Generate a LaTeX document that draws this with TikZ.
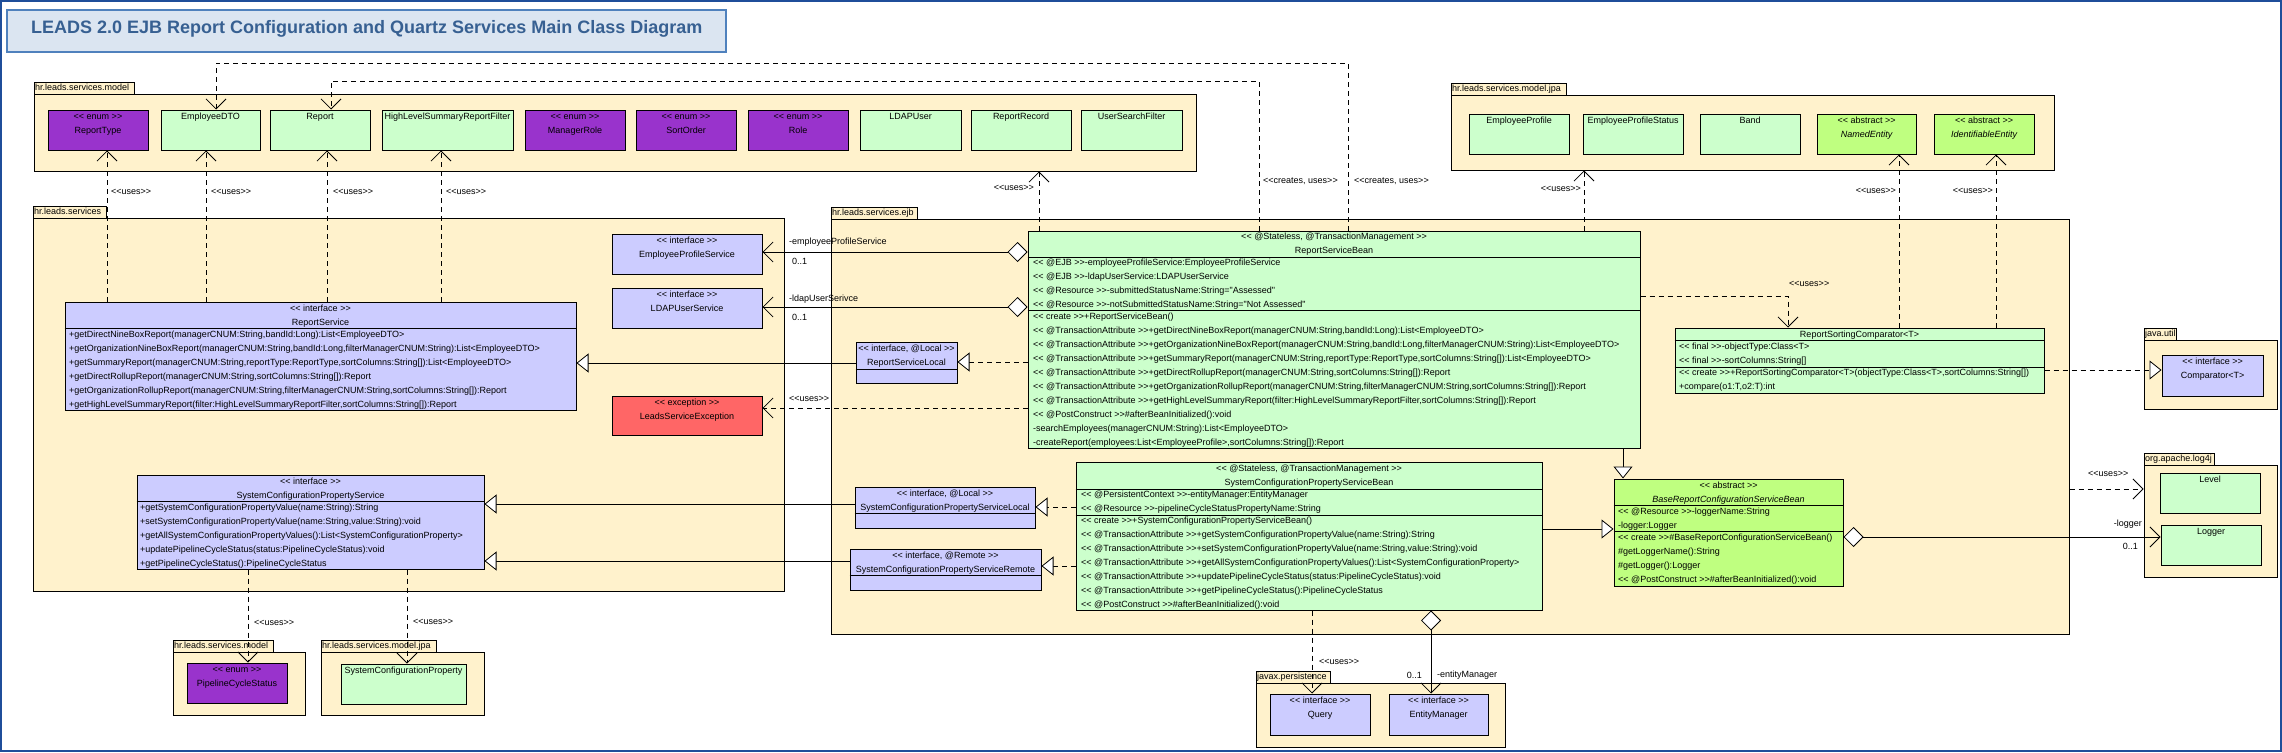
\documentclass[tikz,border=0pt]{standalone}
\usepackage{fontspec}
\setmainfont{Liberation Sans}[Ligatures=TeXOff]
\usetikzlibrary{arrows.meta,fit,calc}
\definecolor{pkgc}{HTML}{FFF2CC}
\definecolor{clsg}{HTML}{CCFFCC}
\definecolor{enumc}{HTML}{9933CC}
\definecolor{intc}{HTML}{CCCCFF}
\definecolor{excc}{HTML}{FF6666}
\definecolor{absc}{HTML}{BFFF80}
\definecolor{titlefill}{HTML}{DBE5F1}
\definecolor{titledraw}{HTML}{4F81BD}
\definecolor{titletext}{HTML}{376092}
\definecolor{framec}{HTML}{1F4E9A}
\newcounter{tn}
\tikzset{
  box/.style={draw=black, line width=1pt, inner sep=0pt},
  pkg/.style={box, fill=pkgc},
  cg/.style={box, fill=clsg},
  ce/.style={box, fill=enumc},
  ci/.style={box, fill=intc},
  cx/.style={box, fill=excc},
  ca/.style={box, fill=absc},
  tx/.style={inner sep=0pt, font=\fontsize{9}{10}\selectfont},
  ltx/.style={tx, anchor=mid west},
  ctx/.style={tx, anchor=mid},
  rtx/.style={tx, anchor=mid east},
  conn/.style={line width=0.8pt},
  uses/.style={conn, dash pattern=on 5pt off 4pt, -{Straight Barb[length=10pt,width=20pt]}},
  real/.style={conn, dash pattern=on 5pt off 4pt, -{Triangle[fill=white,length=12pt,width=19pt]}},
  gen/.style={conn, -{Triangle[fill=white,length=12pt,width=19pt]}},
  agg/.style={conn, {Diamond[fill=white,length=20pt,width=20pt]}-{Straight Barb[length=10pt,width=20pt]}},
}
\newcommand\Tx[4]{\stepcounter{tn}\node[#1] (txt\arabic{tn}) at (#2,#3) {#4};}
\newcommand\Rows[4]{\foreach \rowtext [count=\i from 0] in {#4}{\node[ltx] (#1-\i) at (#2,#3+14*\i) {\rowtext};}}
\newcommand\Cls[6]{\node[#2, fit={(#3,#4)(#5,#6)}] (#1) {};}
\newcommand\CSep[2]{\draw[line width=1pt] (#1.west |- 0,#2) -- (#1.east |- 0,#2);}
\newcommand\Pkg[7]{\node[pkg, fit={(#2,#3)(#4,#5)}] (#1) {};
  \node[pkg, fit={(#2,#3-12)(#6,#3)}] (#1-tab) {};
  \node[ltx] (#1-lab) at (#2+1,#3-6) {#7};}
\begin{document}
\begin{tikzpicture}[x=1pt,y=-1pt]
\useasboundingbox (0,0) rectangle (2282,752);
\node[draw=framec, line width=2pt, inner sep=0pt, fit={(1,1)(2281,751)}] (frame) {};
\node[draw=titledraw, fill=titlefill, line width=1.2pt, inner sep=0pt, fit={(7,10)(726,52)}] (title) {};
\node[anchor=mid west, inner sep=0pt, font=\bfseries\fontsize{18}{21}\selectfont, text=titletext] (titletxt) at (31,31) {LEADS 2.0 EJB Report Configuration and Quartz Services Main Class Diagram};

% ---------- packages ----------
\Pkg{mdl}{34}{94}{1196}{171}{134}{hr.leads.services.model}
\Pkg{jpa}{1451}{95}{2054}{170}{1566}{hr.leads.services.model.jpa}
\Pkg{svc}{33}{218}{784}{591}{106}{hr.leads.services}
\Pkg{ejb}{831}{219}{2069}{634}{917}{hr.leads.services.ejb}
\Pkg{jutil}{2144}{340}{2277}{409}{2176}{java.util}
\Pkg{log}{2144}{465}{2277}{577}{2214}{org.apache.log4j}
\Pkg{jxp}{1256}{683}{1505}{747}{1330}{javax.persistence}
\Pkg{mdlb}{173}{652}{305}{715}{273}{hr.leads.services.model}
\Pkg{jpab}{321}{652}{484}{715}{436}{hr.leads.services.model.jpa}

% ---------- top model classes ----------
\Cls{rtype}{ce}{48}{110}{148}{150}
\Tx{ctx}{98}{117}{<< enum >>}\Tx{ctx}{98}{131}{ReportType}
\Cls{edto}{cg}{161}{110}{260}{150}\Tx{ctx}{210.5}{117}{EmployeeDTO}
\Cls{rep}{cg}{270}{110}{370}{150}\Tx{ctx}{320}{117}{Report}
\Cls{hlsrf}{cg}{382}{110}{513}{150}\Tx{ctx}{447.5}{117}{HighLevelSummaryReportFilter}
\Cls{mrole}{ce}{525}{110}{625}{150}
\Tx{ctx}{575}{117}{<< enum >>}\Tx{ctx}{575}{131}{ManagerRole}
\Cls{sorder}{ce}{636}{110}{736}{150}
\Tx{ctx}{686}{117}{<< enum >>}\Tx{ctx}{686}{131}{SortOrder}
\Cls{role}{ce}{748}{110}{848}{150}
\Tx{ctx}{798}{117}{<< enum >>}\Tx{ctx}{798}{131}{Role}
\Cls{ldapu}{cg}{860}{110}{961}{150}\Tx{ctx}{910.5}{117}{LDAPUser}
\Cls{rrec}{cg}{971}{110}{1071}{150}\Tx{ctx}{1021}{117}{ReportRecord}
\Cls{usf}{cg}{1081}{110}{1182}{150}\Tx{ctx}{1131.5}{117}{UserSearchFilter}

% ---------- jpa classes ----------
\Cls{eprof}{cg}{1469}{114}{1569}{154}\Tx{ctx}{1519}{121}{EmployeeProfile}
\Cls{epstat}{cg}{1583}{114}{1683}{154}\Tx{ctx}{1633}{121}{EmployeeProfileStatus}
\Cls{band}{cg}{1700}{114}{1800}{154}\Tx{ctx}{1750}{121}{Band}
\Cls{nent}{ca}{1817}{114}{1916}{154}
\Tx{ctx}{1866.5}{121}{<< abstract >>}\Tx{ctx}{1866.5}{135}{\itshape NamedEntity}
\Cls{ident}{ca}{1934}{114}{2034}{154}
\Tx{ctx}{1984}{121}{<< abstract >>}\Tx{ctx}{1984}{135}{\itshape IdentifiableEntity}

% ---------- services ----------
\Cls{eps}{ci}{612}{234}{762}{274}
\Tx{ctx}{687}{241}{<< interface >>}\Tx{ctx}{687}{255}{EmployeeProfileService}
\Cls{lus}{ci}{612}{288}{762}{328}
\Tx{ctx}{687}{295}{<< interface >>}\Tx{ctx}{687}{309}{LDAPUserService}
\Cls{lse}{cx}{612}{396}{762}{435}
\Tx{ctx}{687}{403}{<< exception >>}\Tx{ctx}{687}{417}{LeadsServiceException}
\Cls{rs}{ci}{65}{302}{576}{410}
\Tx{ctx}{320.5}{309}{<< interface >>}\Tx{ctx}{320.5}{323}{ReportService}
\CSep{rs}{328}
\Rows{rsm}{69}{335}{{+getDirectNineBoxReport(managerCNUM:String,bandId:Long):List<EmployeeDTO>},
 {+getOrganizationNineBoxReport(managerCNUM:String,bandId:Long,filterManagerCNUM:String):List<EmployeeDTO>},
 {+getSummaryReport(managerCNUM:String,reportType:ReportType,sortColumns:String[]):List<EmployeeDTO>},
 {+getDirectRollupReport(managerCNUM:String,sortColumns:String[]):Report},
 {+getOrganizationRollupReport(managerCNUM:String,filterManagerCNUM:String,sortColumns:String[]):Report},
 {+getHighLevelSummaryReport(filter:HighLevelSummaryReportFilter,sortColumns:String[]):Report}}
\Cls{scps}{ci}{137}{475}{484}{569}
\Tx{ctx}{310.5}{482}{<< interface >>}\Tx{ctx}{310.5}{496}{SystemConfigurationPropertyService}
\CSep{scps}{501}
\Rows{scpsm}{140}{508}{{+getSystemConfigurationPropertyValue(name:String):String},
 {+setSystemConfigurationPropertyValue(name:String,value:String):void},
 {+getAllSystemConfigurationPropertyValues():List<SystemConfigurationProperty>},
 {+updatePipelineCycleStatus(status:PipelineCycleStatus):void},
 {+getPipelineCycleStatus():PipelineCycleStatus}}

% ---------- ejb ----------
\Cls{rsb}{cg}{1028}{231}{1640}{448}
\Tx{ctx}{1334}{237}{<< @Stateless, @TransactionManagement >>}\Tx{ctx}{1334}{251}{ReportServiceBean}
\CSep{rsb}{257}
\Rows{rsba}{1033}{263}{{<< @EJB >>-employeeProfileService:EmployeeProfileService},
 {<< @EJB >>-ldapUserService:LDAPUserService},
 {<< @Resource >>-submittedStatusName:String="Assessed"},
 {<< @Resource >>-notSubmittedStatusName:String="Not Assessed"}}
\CSep{rsb}{310}
\Rows{rsbm}{1033}{317}{{<< create >>+ReportServiceBean()},
 {<< @TransactionAttribute >>+getDirectNineBoxReport(managerCNUM:String,bandId:Long):List<EmployeeDTO>},
 {<< @TransactionAttribute >>+getOrganizationNineBoxReport(managerCNUM:String,bandId:Long,filterManagerCNUM:String):List<EmployeeDTO>},
 {<< @TransactionAttribute >>+getSummaryReport(managerCNUM:String,reportType:ReportType,sortColumns:String[]):List<EmployeeDTO>},
 {<< @TransactionAttribute >>+getDirectRollupReport(managerCNUM:String,sortColumns:String[]):Report},
 {<< @TransactionAttribute >>+getOrganizationRollupReport(managerCNUM:String,filterManagerCNUM:String,sortColumns:String[]):Report},
 {<< @TransactionAttribute >>+getHighLevelSummaryReport(filter:HighLevelSummaryReportFilter,sortColumns:String[]):Report},
 {<< @PostConstruct >>\#afterBeanInitialized():void},
 {-searchEmployees(managerCNUM:String):List<EmployeeDTO>},
 {-createReport(employees:List<EmployeeProfile>,sortColumns:String[]):Report}}
\Cls{rsl}{ci}{856}{342}{957}{383}
\Tx{ctx}{906.5}{349}{<< interface, @Local >>}\Tx{ctx}{906.5}{363}{ReportServiceLocal}
\CSep{rsl}{369}
\Cls{rsc}{cg}{1675}{328}{2044}{393}
\Tx{ctx}{1859.5}{335}{ReportSortingComparator<T>}
\CSep{rsc}{340}
\Rows{rsca}{1679}{347}{{<< final >>-objectType:Class<T>},{<< final >>-sortColumns:String[]}}
\CSep{rsc}{367}
\Rows{rscm}{1679}{373}{{<< create >>+ReportSortingComparator<T>(objectType:Class<T>,sortColumns:String[])},{+compare(o1:T,o2:T):int}}
\Cls{scpsl}{ci}{855}{487}{1035}{528}
\Tx{ctx}{945}{494}{<< interface, @Local >>}\Tx{ctx}{945}{508}{SystemConfigurationPropertyServiceLocal}
\CSep{scpsl}{513}
\Cls{scpsr}{ci}{850}{549}{1041}{590}
\Tx{ctx}{945.5}{556}{<< interface, @Remote >>}\Tx{ctx}{945.5}{570}{SystemConfigurationPropertyServiceRemote}
\CSep{scpsr}{575}
\Cls{scpsb}{cg}{1076}{462}{1542}{610}
\Tx{ctx}{1309}{469}{<< @Stateless, @TransactionManagement >>}\Tx{ctx}{1309}{483}{SystemConfigurationPropertyServiceBean}
\CSep{scpsb}{489}
\Rows{scpsba}{1081}{495}{{<< @PersistentContext >>-entityManager:EntityManager},{<< @Resource >>-pipelineCycleStatusPropertyName:String}}
\CSep{scpsb}{515}
\Rows{scpsbm}{1081}{521}{{<< create >>+SystemConfigurationPropertyServiceBean()},
 {<< @TransactionAttribute >>+getSystemConfigurationPropertyValue(name:String):String},
 {<< @TransactionAttribute >>+setSystemConfigurationPropertyValue(name:String,value:String):void},
 {<< @TransactionAttribute >>+getAllSystemConfigurationPropertyValues():List<SystemConfigurationProperty>},
 {<< @TransactionAttribute >>+updatePipelineCycleStatus(status:PipelineCycleStatus):void},
 {<< @TransactionAttribute >>+getPipelineCycleStatus():PipelineCycleStatus},
 {<< @PostConstruct >>\#afterBeanInitialized():void}}
\Cls{brc}{ca}{1614}{479}{1843}{586}
\Tx{ctx}{1728.5}{486}{<< abstract >>}\Tx{ctx}{1728.5}{500}{\itshape BaseReportConfigurationServiceBean}
\CSep{brc}{505}
\Rows{brca}{1618}{512}{{<< @Resource >>-loggerName:String},{-logger:Logger}}
\CSep{brc}{531}
\Rows{brcm}{1618}{538}{{<< create >>\#BaseReportConfigurationServiceBean()},{\#getLoggerName():String},{\#getLogger():Logger},{<< @PostConstruct >>\#afterBeanInitialized():void}}

% ---------- other packages ----------
\Cls{cmp}{ci}{2162}{355}{2263}{396}
\Tx{ctx}{2212.5}{362}{<< interface >>}\Tx{ctx}{2212.5}{376}{Comparator<T>}
\Cls{level}{cg}{2160}{473}{2260}{513}\Tx{ctx}{2210}{480}{Level}
\Cls{logger}{cg}{2161}{525}{2261}{565}\Tx{ctx}{2211}{532}{Logger}
\Cls{query}{ci}{1270}{694}{1370}{735}
\Tx{ctx}{1320}{701}{<< interface >>}\Tx{ctx}{1320}{715}{Query}
\Cls{em}{ci}{1389}{694}{1488}{735}
\Tx{ctx}{1438.5}{701}{<< interface >>}\Tx{ctx}{1438.5}{715}{EntityManager}
\Cls{pcs}{ce}{187}{663}{287}{703}
\Tx{ctx}{237}{670}{<< enum >>}\Tx{ctx}{237}{684}{PipelineCycleStatus}
\Cls{scp}{cg}{341}{664}{466}{704}\Tx{ctx}{403.5}{671}{SystemConfigurationProperty}

% ---------- connectors ----------
\draw[uses] (107,0 |- rs.north) -- (107,0 |- rtype.south);
\draw[uses] (206,0 |- rs.north) -- (206,0 |- edto.south);
\draw[uses] (327,0 |- rs.north) -- (327,0 |- rep.south);
\draw[uses] (441,0 |- rs.north) -- (441,0 |- hlsrf.south);
\Tx{ltx}{111}{192}{<<uses>>}\Tx{ltx}{211}{192}{<<uses>>}
\Tx{ltx}{333}{192}{<<uses>>}\Tx{ltx}{446}{192}{<<uses>>}

\draw[uses] (1039,0 |- rsb.north) -- (1039,0 |- mdl.south);
\Tx{rtx}{1034}{188}{<<uses>>}
\draw[uses] (1348,0 |- rsb.north) -- (1348,63) -| (216,0 |- edto.north);
\Tx{ltx}{1354}{181}{<<creates, uses>>}
\draw[uses] (1259,0 |- rsb.north) -- (1259,81) -| (331,0 |- rep.north);
\Tx{ltx}{1263}{181}{<<creates, uses>>}
\draw[uses] (1584,0 |- rsb.north) -- (1584,0 |- jpa.south);
\Tx{rtx}{1581}{189}{<<uses>>}
\draw[uses] (rsb.east |- 0,296) -| (1788,0 |- rsc.north);
\Tx{ltx}{1789}{284}{<<uses>>}
\draw[uses] (1899,0 |- rsc.north) -- (1899,0 |- nent.south);
\Tx{rtx}{1896}{191}{<<uses>>}
\draw[uses] (1996,0 |- rsc.north) -- (1996,0 |- ident.south);
\Tx{rtx}{1993}{191}{<<uses>>}
\draw[real] (rsc.east |- 0,370) -- (cmp.west |- 0,370);

\draw[agg] (rsb.west |- 0,252) -- (eps.east |- 0,252);
\Tx{ltx}{789}{242}{-employeeProfileService}\Tx{ltx}{792}{262}{0..1}
\draw[agg] (rsb.west |- 0,307) -- (lus.east |- 0,307);
\Tx{ltx}{789}{299}{-ldapUserSerivce}\Tx{ltx}{792}{318}{0..1}
\draw[real] (rsb.west |- 0,362) -- (rsl.east |- 0,362);
\draw[gen] (rsl.west |- 0,363) -- (rs.east |- 0,363);
\draw[uses] (rsb.west |- 0,408) -- (lse.east |- 0,408);
\Tx{ltx}{789}{399}{<<uses>>}

\draw[real] (scpsb.west |- 0,507) -- (scpsl.east |- 0,507);
\draw[gen] (scpsl.west |- 0,504) -- (scps.east |- 0,504);
\draw[real] (scpsb.west |- 0,566) -- (scpsr.east |- 0,566);
\draw[gen] (scpsr.west |- 0,561) -- (scps.east |- 0,561);
\draw[gen] (scpsb.east |- 0,529) -- (brc.west |- 0,529);
\draw[gen] (1623,0 |- rsb.south) -- (1623,0 |- brc.north);
\draw[agg] (brc.east |- 0,537) -- (logger.west |- 0,537);
\Tx{rtx}{2142}{524}{-logger}\Tx{rtx}{2138}{547}{0..1}
\draw[uses] (ejb.east |- 0,489) -- (log.west |- 0,489);
\Tx{ltx}{2088}{474}{<<uses>>}

\draw[uses] (248,0 |- scps.south) -- (248,0 |- pcs.north);
\Tx{ltx}{254}{623}{<<uses>>}
\draw[uses] (407,0 |- scps.south) -- (407,0 |- scp.north);
\Tx{ltx}{413}{622}{<<uses>>}
\draw[uses] (1312,0 |- scpsb.south) -- (1312,0 |- query.north);
\Tx{ltx}{1319}{662}{<<uses>>}
\draw[agg] (1431,0 |- scpsb.south) -- (1431,0 |- em.north);
\Tx{rtx}{1422}{676}{0..1}\Tx{ltx}{1437}{675}{-entityManager}
\end{tikzpicture}
\end{document}
